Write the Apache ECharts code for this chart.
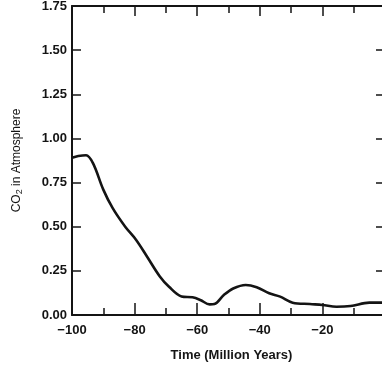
<!DOCTYPE html>
<html>
<head>
<meta charset="utf-8">
<script src="https://cdn.jsdelivr.net/npm/echarts@6/dist/echarts.min.js"></script>
<style>
  html, body { margin: 0; padding: 0; background: #fff; }
  #main { width: 382px; height: 369px; }
</style>
</head>
<body>
<div id="main"></div>
<script>
// values
const times = [-100, -98, -95.5, -93.3, -90, -87, -83, -79.5, -76, -72, -69, -65, -61.5, -59, -56, -54.5, -51.5, -48.5, -44.5, -41, -37, -33.5, -29.5, -24, -20, -15.5, -11, -5, 0];
const co2 = [0.89, 0.90, 0.905, 0.86, 0.71, 0.605, 0.50, 0.425, 0.33, 0.22, 0.16, 0.105, 0.10, 0.085, 0.06, 0.062, 0.113, 0.15, 0.17, 0.157, 0.123, 0.104, 0.07, 0.062, 0.057, 0.047, 0.051, 0.07, 0.07];
const xTicks = { min: -100, max: 0, interval: 20 };
const yTicks = { min: 0, max: 1.75, interval: 0.25 };

const chart = echarts.init(document.getElementById('main'));
const font = '"Liberation Sans", Arial, sans-serif';
const ink = '#141414';

const axisLine = { show: true, onZero: false, lineStyle: { color: ink, width: 2 } };
const tick = len => ({ show: true, inside: true, length: len, lineStyle: { color: ink, width: 1.5 } });
const minus = v => (v < 0 ? '\u2212' + Math.abs(v) : String(v));

chart.setOption({
  animation: false,
  grid: { left: 72, top: 6, width: 313, height: 309, outerBoundsMode: 'none', containLabel: false },
  xAxis: [
    {
      type: 'value',
      position: 'bottom',
      ...xTicks,
      name: 'Time (Million Years)',
      nameLocation: 'middle',
      nameGap: 34,
      nameTextStyle: { fontFamily: font, fontWeight: 'bold', fontSize: 13, color: ink, verticalAlign: 'top', padding: [0, 0, 0, 6] },
      axisLine,
      axisTick: tick(12),
      minorTick: { show: true, splitNumber: 2, length: 7, lineStyle: { color: ink, width: 1.5 } },
      splitLine: { show: false },
      axisLabel: { formatter: minus, fontFamily: font, fontWeight: 'bold', fontSize: 13, color: ink, margin: 9 },
    },
    {
      type: 'value',
      position: 'top',
      ...xTicks,
      axisLine,
      axisTick: tick(10),
      minorTick: { show: true, splitNumber: 2, length: 7, lineStyle: { color: ink, width: 1.5 } },
      splitLine: { show: false },
      axisLabel: { show: false },
    },
  ],
  yAxis: [
    {
      type: 'value',
      position: 'left',
      ...yTicks,
      name: '{n|CO}{s|2}{n| in Atmosphere}',
      nameLocation: 'middle',
      nameGap: 48,
      nameTextStyle: {
        rich: {
          n: { fontFamily: font, fontSize: 12, color: ink },
          s: { fontFamily: font, fontSize: 9, color: ink, padding: [6, 0, 0, 0] },
        },
      },
      axisLine,
      axisTick: tick(9),
      splitLine: { show: false },
      axisLabel: { formatter: v => v.toFixed(2), fontFamily: font, fontWeight: 'bold', fontSize: 13, color: ink, margin: 5 },
    },
    {
      type: 'value',
      position: 'right',
      ...yTicks,
      axisLine,
      axisTick: tick(9),
      splitLine: { show: false },
      axisLabel: { show: false },
    },
  ],
  series: [
    {
      type: 'line',
      data: times.map((t, i) => [t, co2[i]]),
      smooth: 0.35,
      showSymbol: false,
      lineStyle: { color: ink, width: 2.6 },
    },
  ],
});
</script>
</body>
</html>
